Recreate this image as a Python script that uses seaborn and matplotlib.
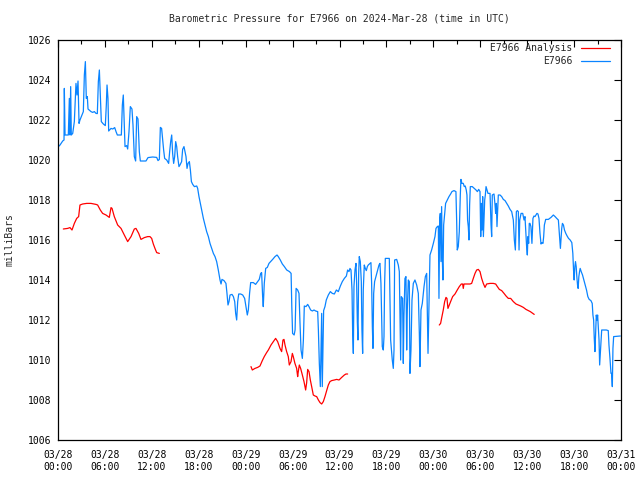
import numpy as np
import pandas as pd
import matplotlib
matplotlib.use('Agg')
import matplotlib.pyplot as plt
from matplotlib.lines import Line2D
from matplotlib.ticker import MultipleLocator
import seaborn as sns

# hours since 2024-03-28 00:00 UTC
station_hours = [
    0.0, 0.26, 0.6, 0.77, 0.81, 0.9, 1.32, 1.45, 1.53, 1.62, 1.7, 1.88, 2.09, 2.3, 2.43, 2.56, 2.69, 2.81,
    3.03, 3.24, 3.37, 3.5, 3.62, 3.75, 3.84, 4.22, 4.43, 4.65, 4.86, 5.03, 5.16, 5.29, 5.41, 5.54, 5.8, 6.05,
    6.18, 6.27, 6.39, 6.48, 6.78, 7.0, 7.25, 7.42, 7.59, 8.1, 8.23, 8.35, 8.48, 8.57, 8.78, 8.91, 9.08, 9.25,
    9.46, 9.59, 9.76, 9.93, 10.06, 10.23, 10.4, 10.53, 11.25, 11.51, 12.11,
    12.62, 12.79, 12.96, 13.09, 13.25, 13.39, 13.51, 13.64, 13.9, 14.15, 14.28, 14.41, 14.54, 14.66, 14.79,
    14.92, 15.05, 15.18, 15.3, 15.47, 15.6, 15.81, 15.94, 16.11, 16.24, 16.37, 16.5, 16.63, 16.8, 16.93,
    17.06, 17.23, 17.44, 17.74, 17.86, 18.03, 18.16, 18.38, 18.59, 18.8, 19.01, 19.23, 19.44, 19.65, 19.87,
    20.08, 20.29, 20.5, 20.72, 20.85, 20.97, 21.23, 21.48, 21.61, 21.74, 21.87, 22.0, 22.25, 22.43, 22.6,
    22.72, 22.85, 22.98, 23.11, 23.36, 23.62, 23.87, 24.04, 24.21, 24.34,
    24.5, 24.64, 24.98, 25.27, 25.53, 25.74, 25.92, 26.04, 26.17, 26.25, 26.38, 26.56, 26.77, 26.98, 27.19,
    27.45, 27.75, 28.01, 28.17, 28.43, 28.69, 28.95, 29.25, 29.6, 29.81, 29.9, 30.0, 30.2, 30.32, 30.45,
    30.65, 30.82, 30.95, 31.08, 31.25, 31.38, 31.5, 31.72, 31.93, 32.1, 32.31, 32.53, 32.74, 32.95, 33.21,
    33.3, 33.42, 33.55, 33.63, 33.72, 33.8, 33.89, 33.97, 34.14, 34.31, 34.57, 34.83, 35.08, 35.34, 35.6,
    35.85, 36.11, 36.36, 36.62, 36.88, 37.04, 37.21, 37.34,
    37.47, 37.6, 37.68, 37.77, 37.85, 37.98, 38.11, 38.19, 38.28, 38.36, 38.45, 38.53, 38.66, 38.79, 38.87,
    38.96, 39.04, 39.17, 39.3, 39.43, 39.56, 39.68, 39.9, 40.02, 40.11, 40.2, 40.28, 40.37, 40.49, 40.66,
    40.83, 41.05, 41.17, 41.3, 41.39, 41.47, 41.6, 41.69, 41.77, 41.86, 42.37, 42.45, 42.54, 42.62, 42.75,
    42.88, 42.97, 43.05, 43.31, 43.52, 43.65, 43.73, 43.82, 43.9, 44.07, 44.16, 44.24, 44.37, 44.5, 44.59,
    44.67, 44.8, 44.93, 45.01, 45.14, 45.27, 45.44, 45.65, 45.87, 46.08, 46.21, 46.29, 46.42, 46.59, 46.81,
    46.98, 47.15, 47.24, 47.32, 47.41,
    47.57, 47.78, 48.0, 48.21, 48.34, 48.51, 48.64, 48.72, 48.81, 48.89, 48.98, 49.06, 49.15, 49.23, 49.32,
    49.45, 49.57, 49.79, 50.0, 50.21, 50.38, 50.64, 50.89, 50.98, 51.06, 51.19, 51.32, 51.45, 51.53, 51.66,
    51.83, 51.96, 52.08, 52.21, 52.3, 52.38, 52.47, 52.56, 52.64, 52.73, 52.98, 53.24, 53.46, 53.63, 53.8,
    53.97, 54.06, 54.14, 54.23, 54.31, 54.4, 54.48, 54.57, 54.65, 54.74, 54.87, 54.99, 55.25, 55.38, 55.46,
    55.54, 55.76, 55.89, 55.97, 56.06, 56.14, 56.23, 56.31, 56.53, 56.74, 56.95, 57.17, 57.38, 57.59, 57.81,
    58.02, 58.23, 58.36, 58.49, 58.62, 58.74, 58.87, 58.96, 59.05, 59.22, 59.43, 59.6, 59.72,
    59.93, 60.02, 60.1, 60.19, 60.27, 60.36, 60.48, 60.61, 60.74, 60.87, 61.0, 61.12, 61.25, 61.38, 61.51,
    61.64, 61.77, 61.9, 62.02, 62.11, 62.2, 62.37, 62.71, 63.05, 63.35, 63.57, 63.78, 63.99, 64.08, 64.16,
    64.25, 64.34, 64.42, 64.51, 64.64, 64.77, 64.94, 65.11, 65.29, 65.5, 65.71, 65.84, 65.93, 66.01, 66.1,
    66.18, 66.27, 66.35, 66.44, 66.52, 66.61, 66.7, 66.78, 66.91, 67.08, 67.25, 67.42, 67.59, 67.76, 67.93,
    68.15, 68.32, 68.41, 68.5, 68.58, 68.67, 68.75, 68.84, 68.93, 69.01, 69.1, 69.19, 69.27, 69.36, 69.44,
    69.53, 70.12, 70.37, 70.46, 70.59, 70.72, 70.8, 70.89, 70.97, 71.06, 71.91,
]
station_mb = [
    1020.65, 1020.75, 1020.95, 1021.0, 1023.58, 1021.25, 1021.25, 1023.08, 1021.25, 1023.67, 1021.25, 1021.33,
    1021.92, 1023.83, 1023.25, 1023.95, 1021.83, 1022.0, 1022.22, 1022.42, 1024.25, 1024.92, 1023.08, 1023.17,
    1022.55, 1022.42, 1022.38, 1022.42, 1022.33, 1022.32, 1023.92, 1024.5, 1023.25, 1021.92, 1021.8, 1021.72,
    1022.75, 1023.75, 1023.08, 1021.45, 1021.58, 1021.55, 1021.62, 1021.42, 1021.25, 1021.25, 1022.75, 1023.25,
    1021.75, 1020.67, 1020.72, 1020.55, 1021.42, 1022.67, 1022.55, 1021.75, 1020.17, 1019.95, 1022.17, 1022.05,
    1020.42, 1019.95, 1019.95, 1020.12, 1020.15,
    1020.13, 1019.97, 1020.03, 1021.63, 1021.58, 1021.0, 1020.5, 1020.08, 1020.0, 1019.83, 1020.42, 1020.92,
    1021.25, 1020.33, 1019.83, 1020.17, 1020.92, 1020.67, 1020.17, 1019.67, 1019.75, 1019.92, 1020.53, 1020.67,
    1020.42, 1020.17, 1019.58, 1019.83, 1019.92, 1019.5, 1018.92, 1018.78, 1018.67, 1018.7, 1018.58, 1018.17,
    1017.92, 1017.5, 1017.08, 1016.75, 1016.42, 1016.17, 1015.83, 1015.58, 1015.33, 1015.17, 1014.92, 1014.5,
    1014.0, 1013.8, 1014.03, 1013.97, 1013.83, 1013.33, 1012.75, 1012.92, 1013.25, 1013.28, 1013.17, 1012.92,
    1012.33, 1012.0, 1012.92, 1013.3, 1013.3, 1013.25, 1013.08, 1012.67, 1012.25, 1012.5,
    1013.33, 1013.87, 1013.87, 1013.78, 1013.92, 1014.03, 1014.33, 1014.37, 1013.17, 1012.67, 1013.83, 1014.58,
    1014.63, 1014.83, 1014.92, 1015.03, 1015.17, 1015.25, 1015.17, 1015.0, 1014.8, 1014.67, 1014.5, 1014.42,
    1014.33, 1012.67, 1011.33, 1011.25, 1011.5, 1013.58, 1013.5, 1013.33, 1011.83, 1010.5, 1010.08, 1011.0,
    1012.7, 1012.67, 1012.78, 1012.67, 1012.5, 1012.45, 1012.5, 1012.45, 1012.42, 1011.5, 1009.83, 1008.67,
    1010.5, 1012.33, 1008.67, 1010.67, 1012.47, 1012.67, 1013.0, 1013.25, 1013.42, 1013.33, 1013.3, 1013.5,
    1013.42, 1013.7, 1013.92, 1014.08, 1014.2, 1014.5, 1014.42, 1014.58,
    1014.5, 1013.5, 1011.42, 1010.33, 1013.67, 1014.5, 1014.83, 1013.83, 1011.92, 1011.0, 1014.33, 1015.17,
    1014.92, 1013.92, 1011.5, 1010.33, 1013.5, 1014.75, 1014.58, 1014.47, 1014.67, 1014.75, 1014.83, 1014.87,
    1013.83, 1011.67, 1010.58, 1013.33, 1013.92, 1014.17, 1014.42, 1014.75, 1014.83, 1013.83, 1012.17, 1010.67,
    1010.5, 1011.17, 1013.83, 1015.08, 1015.08, 1013.17, 1011.0, 1010.6, 1010.0, 1009.58, 1010.5, 1015.0,
    1015.03, 1014.75, 1014.42, 1012.17, 1010.0, 1013.17, 1013.08, 1009.83, 1012.17, 1014.08, 1014.17, 1010.5,
    1012.5, 1014.0, 1013.92, 1009.33, 1010.5, 1013.0, 1013.83, 1014.0, 1013.75, 1013.33, 1011.33, 1009.67,
    1012.5, 1012.83, 1013.67, 1014.17, 1014.33, 1012.17, 1010.33, 1012.17,
    1015.25, 1015.5, 1015.83, 1016.17, 1016.58, 1016.67, 1016.7, 1013.08, 1017.0, 1017.33, 1014.92, 1017.67,
    1015.0, 1014.0, 1016.75, 1017.33, 1017.83, 1018.0, 1018.17, 1018.3, 1018.42, 1018.47, 1018.42, 1017.0,
    1015.5, 1015.67, 1016.42, 1018.25, 1019.03, 1018.83, 1018.83, 1018.67, 1018.7, 1018.5, 1018.25, 1017.0,
    1016.67, 1016.0, 1017.75, 1018.67, 1018.67, 1018.58, 1018.5, 1018.42, 1018.53, 1018.42, 1016.17, 1017.83,
    1016.5, 1018.17, 1016.17, 1017.0, 1018.0, 1018.25, 1018.67, 1018.5, 1018.33, 1018.33, 1016.75, 1016.17,
    1018.25, 1018.3, 1017.75, 1017.33, 1017.83, 1016.67, 1017.5, 1018.25, 1018.25, 1018.17, 1018.03, 1017.97,
    1017.83, 1017.7, 1017.53, 1017.42, 1017.0, 1016.0, 1015.5, 1017.42, 1017.47, 1017.42, 1015.5, 1017.0,
    1017.33, 1017.33, 1017.0, 1017.17,
    1015.67, 1015.25, 1016.17, 1015.83, 1016.83, 1016.83, 1016.67, 1015.83, 1017.08, 1017.2, 1017.17, 1017.25,
    1017.33, 1017.3, 1017.08, 1016.33, 1015.8, 1015.87, 1015.83, 1016.17, 1016.75, 1017.03, 1017.03, 1017.13,
    1017.25, 1017.17, 1017.08, 1017.0, 1016.5, 1016.0, 1015.58, 1016.08, 1016.58, 1016.83, 1016.75, 1016.5,
    1016.33, 1016.2, 1016.08, 1016.0, 1015.87, 1015.33, 1014.5, 1014.0, 1014.67, 1014.92, 1014.67, 1014.17,
    1013.75, 1013.58, 1014.17, 1014.42, 1014.58, 1014.42, 1014.25, 1014.0, 1013.75, 1013.5, 1013.17, 1013.03,
    1012.97, 1012.83, 1012.25, 1012.0, 1011.08, 1010.42, 1011.33, 1012.25, 1012.0, 1012.25, 1011.67, 1011.0,
    1009.75, 1010.33, 1010.83, 1011.5, 1011.5, 1011.47, 1010.75, 1010.08, 1009.33, 1009.33, 1008.67, 1010.58,
    1011.17, 1011.2,
]

# analysis runs, separated by NaN gaps
analysis_hours = [
    0.68, 1.24, 1.53, 1.79, 2.09, 2.39, 2.64, 2.81, 3.15, 3.67, 4.22, 4.86, 5.07, 5.41, 5.71, 6.14, 6.56, 6.78,
    6.91, 7.2, 7.63, 8.06, 8.48, 8.91, 9.34, 9.76, 9.97, 10.32, 10.61, 11.04, 11.47, 11.76, 11.98, 12.19,
    12.4, 12.62, 12.96,
    np.nan,
    24.68, 24.85, 25.19, 25.53, 25.83, 26.13, 26.38, 26.68, 26.9, 27.24, 27.54, 27.83, 28.09, 28.39, 28.6,
    28.77, 28.9, 29.03, 29.24, 29.45, 29.58, 29.8, 29.97, 30.09, 30.3, 30.52, 30.65, 30.73, 30.86, 31.03,
    31.25, 31.46, 31.67, 31.8, 31.93, 32.1, 32.27, 32.44, 32.65, 32.87, 33.08, 33.3, 33.51, 33.72, 33.93,
    34.14, 34.36, 34.57, 34.78, 35.0, 35.34, 35.64, 35.94, 36.28, 36.62, 36.83, 37.04,
    np.nan,
    48.76, 48.93, 49.1, 49.27, 49.45, 49.62, 49.74, 49.87, 50.04, 50.21, 50.47, 50.77, 51.06, 51.32, 51.58,
    51.75, 51.83, 51.92, 52.26, 52.69, 52.9, 53.11, 53.33, 53.54, 53.75, 53.97, 54.18, 54.39, 54.61, 54.82,
    55.25, 55.67, 55.97, 56.19, 56.44, 56.74, 57.04, 57.3, 57.59, 57.89, 58.23, 58.57, 58.87, 59.17, 59.51,
    59.85, 60.15, 60.4, 60.9,
]
analysis_mb = [
    1016.55, 1016.58, 1016.62, 1016.5, 1016.83, 1017.08, 1017.17, 1017.75, 1017.8, 1017.83, 1017.83, 1017.78,
    1017.75, 1017.5, 1017.33, 1017.25, 1017.13, 1017.62, 1017.58, 1017.17, 1016.75, 1016.58, 1016.25, 1015.92,
    1016.17, 1016.55, 1016.58, 1016.33, 1016.03, 1016.12, 1016.17, 1016.17, 1016.08, 1015.8, 1015.58, 1015.37,
    1015.33,
    np.nan,
    1009.67, 1009.5, 1009.58, 1009.63, 1009.7, 1009.97, 1010.17, 1010.37, 1010.5, 1010.75, 1010.92, 1011.08,
    1010.92, 1010.58, 1010.42, 1011.0, 1011.03, 1010.75, 1010.42, 1010.17, 1009.75, 1009.92, 1010.33, 1010.17,
    1009.83, 1009.58, 1009.17, 1009.42, 1009.75, 1009.58, 1009.25, 1008.92, 1008.5, 1008.87, 1009.53, 1009.42,
    1009.0, 1008.67, 1008.25, 1008.2, 1008.17, 1008.0, 1007.87, 1007.8, 1007.92, 1008.17, 1008.47, 1008.75,
    1008.92, 1008.97, 1009.0, 1009.03, 1009.0, 1009.13, 1009.25, 1009.3, 1009.3,
    np.nan,
    1011.75, 1011.83, 1012.17, 1012.5, 1012.92, 1013.13, 1013.08, 1012.58, 1012.75, 1012.92, 1013.17, 1013.3,
    1013.5, 1013.67, 1013.8, 1013.8, 1013.58, 1013.8, 1013.8, 1013.8, 1013.83, 1014.08, 1014.33, 1014.5,
    1014.53, 1014.42, 1014.08, 1013.83, 1013.63, 1013.8, 1013.83, 1013.83, 1013.8, 1013.67, 1013.53, 1013.47,
    1013.33, 1013.2, 1013.08, 1013.08, 1012.92, 1012.8, 1012.75, 1012.7, 1012.63, 1012.53, 1012.47, 1012.42,
    1012.28,
]

tick_hours = list(range(0, 73, 6))
tick_labels = ['03/28\n00:00', '03/28\n06:00', '03/28\n12:00', '03/28\n18:00',
               '03/29\n00:00', '03/29\n06:00', '03/29\n12:00', '03/29\n18:00',
               '03/30\n00:00', '03/30\n06:00', '03/30\n12:00', '03/30\n18:00',
               '03/31\n00:00']

blue = '#0a84ff'
red = '#ff0000'

df_station = pd.DataFrame({'hour': station_hours, 'mb': station_mb})
df_an = pd.DataFrame({'hour': analysis_hours, 'mb': analysis_mb})
df_an['run'] = df_an['hour'].isna().cumsum()
df_an = df_an.dropna()

sns.set_style('white')
plt.rcParams['font.family'] = ['DejaVu Sans Mono']
plt.rcParams['font.size'] = 7

fig = plt.figure(figsize=(6.4, 4.8), dpi=100)
ax = fig.add_axes([58 / 640, 40 / 480, 563 / 640, 400 / 480])

sns.lineplot(data=df_station, x='hour', y='mb', color=blue, linewidth=0.9,
             estimator=None, sort=False, ax=ax, legend=False)
sns.lineplot(data=df_an, x='hour', y='mb', units='run', color=red, linewidth=0.9,
             estimator=None, sort=False, ax=ax, legend=False)

ax.set_xlim(0, 72)
ax.set_ylim(1006, 1026)
ax.set_yticks(range(1006, 1027, 2))
ax.set_xticks(tick_hours)
ax.set_xticklabels(tick_labels, linespacing=1.25)
ax.xaxis.set_minor_locator(MultipleLocator(3))
ax.tick_params(axis='both', which='both', direction='in', top=True, right=True,
               color='black', labelsize=7, labelcolor='black')
ax.tick_params(axis='both', which='major', length=5, width=0.8)
ax.tick_params(axis='x', which='minor', length=3, width=0.8)
ax.tick_params(axis='x', which='major', pad=7.5)
ax.tick_params(axis='y', which='major', pad=5)
for s in ax.spines.values():
    s.set_color('black')
    s.set_linewidth(0.9)

ax.set_xlabel('')
ax.set_ylabel('milliBars', fontsize=7)
ax.yaxis.set_label_coords(-0.078, 0.5)
ax.set_title('Barometric Pressure for E7966 on 2024-Mar-28 (time in UTC)', fontsize=7, pad=13)

handles = [Line2D([], [], color=red, linewidth=0.9), Line2D([], [], color=blue, linewidth=0.9)]
ax.legend(handles, ['E7966 Analysis', 'E7966'], loc='upper right', bbox_to_anchor=(0.981, 0.992),
          frameon=False, markerfirst=False, handlelength=3.0, handletextpad=0.9,
          labelspacing=0.3, borderpad=0, borderaxespad=0, fontsize=7)

fig.savefig('out.png', dpi=100)
